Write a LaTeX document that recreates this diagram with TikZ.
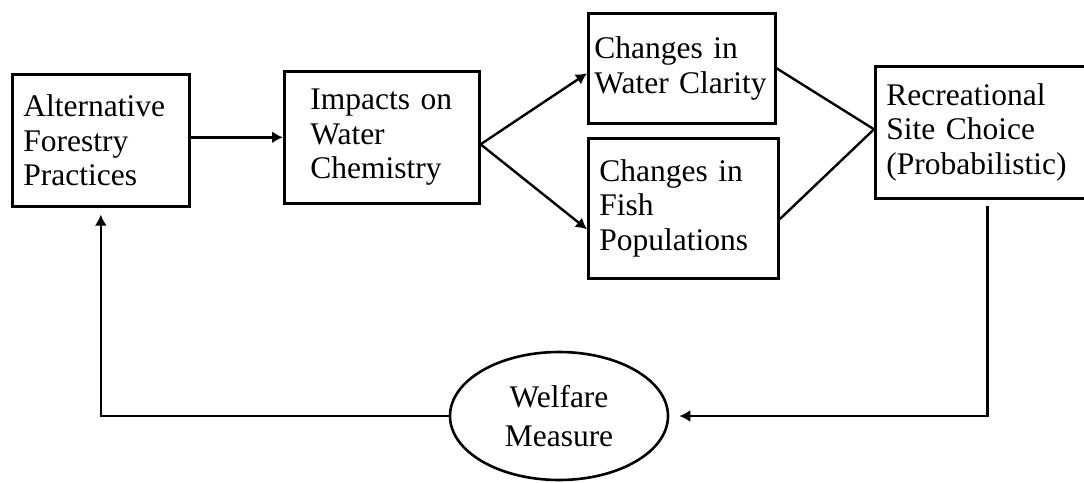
\documentclass[tikz,border=0pt]{standalone}
\usepackage{fontspec}
\setmainfont{Liberation Serif}
\usetikzlibrary{shapes.geometric}
\usetikzlibrary{arrows.meta}

\tikzset{
  stage/.style={draw, line width=2.6pt, align=left, anchor=north west, inner xsep=11pt, inner ysep=0pt, font=\fontsize{31.5}{34.5}\selectfont},
  flow/.style={line width=2.4pt, -{Latex[length=11pt,width=12pt]}},
}

\begin{document}
\begin{tikzpicture}[x=1pt, y=1pt]
\useasboundingbox (0, 0) rectangle (1084, -482);

\node[stage, text width=155pt, minimum height=132pt] (alt) at (11, -73) {Alternative\\Forestry\\Practices};
\node[stage, inner xsep=26pt, text width=143pt, minimum height=132pt] (chem) at (283, -70) {Impacts~on\\Water\\Chemistry};
\node[stage, inner xsep=6pt, text width=175pt, minimum height=110pt] (clar) at (587, -12) {Changes~in\\Water~Clarity};
\node[stage, text width=168pt, minimum height=140pt] (fish) at (587, -137) {Changes~in\\Fish\\Populations};
\node[stage, text width=194pt, minimum height=132pt] (site) at (874, -65) {Recreational\\Site~Choice\\(Probabilistic)};
\node[draw, ellipse, line width=2.6pt, minimum width=218pt, minimum height=128pt, inner sep=0pt, align=center, font=\fontsize{31.5}{34.5}\selectfont] (welf) at (559, -416) {Welfare\\[4pt]Measure};

\draw[flow] (alt.east |- chem.west) -- (chem.west);
\foreach \nd/\dy in {clar/-5, fish/-21} \draw[flow] ([yshift=-7pt]chem.east) -- ([yshift=\dy pt]\nd.west);
\foreach \nd/\dy in {clar/0, fish/-11} \draw[line width=2.4pt] ([yshift=\dy pt]\nd.east) -- ([yshift=3pt]site.west);

% loop back through the welfare measure
\draw[flow] ([xshift=4pt, yshift=-6pt]site.south) |- ([xshift=10pt]welf.east);
\draw[flow] (welf.west) -| ([yshift=-7pt]alt.south);
\end{tikzpicture}
\end{document}
